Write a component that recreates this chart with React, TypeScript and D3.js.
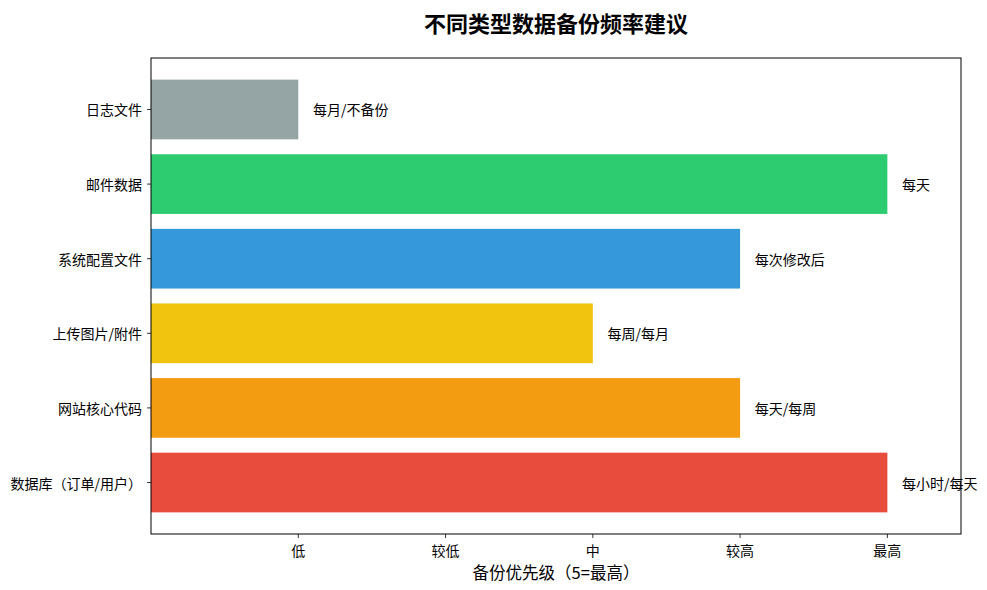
import React from "react";
import * as d3 from "d3";

const categories = ["数据库（订单/用户）", "网站核心代码", "上传图片/附件", "系统配置文件", "邮件数据", "日志文件"];
const priorities = [5, 4, 3, 4, 5, 1];
const frequencies = ["每小时/每天", "每天/每周", "每周/每月", "每次修改后", "每天", "每月/不备份"];
const colors = ["#e74c3c", "#f39c12", "#f1c40f", "#3498db", "#2ecc71", "#95a5a6"];
const tickValues = [1, 2, 3, 4, 5];
const tickLabels = ["低", "较低", "中", "较高", "最高"];

const W = 987, H = 590;
const L = 151, R = 961, T = 58, B = 534;
const FONT = "'Noto Sans CJK SC', 'Noto Sans', sans-serif";

export default function App() {
  const x = d3.scaleLinear().domain([0, 5.5]).range([L, R]);
  const y = d3.scaleLinear().domain([-0.69, 5.69]).range([B, T]);
  const bh = y(0) - y(0.8);
  return (
    <svg width={W} height={H} style={{ position: "absolute", left: 0, top: 0 }} fontFamily={FONT}>
      <rect x={0} y={0} width={W} height={H} fill="#fff" />
      <text x={(L + R) / 2} y={22} textAnchor="middle" dominantBaseline="central" fontSize={22} fontWeight="bold" fill="#000">不同类型数据备份频率建议</text>
      {categories.map((c, i) => (
        <g key={c}>
          <rect x={x(0)} y={y(i) - bh / 2} width={x(priorities[i]) - x(0)} height={bh} fill={colors[i]} />
          <text x={x(priorities[i] + 0.1)} y={y(i)} dominantBaseline="central" fontSize={14} fill="#000">{frequencies[i]}</text>
          <line x1={L - 4} x2={L} y1={y(i)} y2={y(i)} stroke="#000" strokeWidth={0.8} />
          <text x={L - 9} y={y(i)} textAnchor="end" dominantBaseline="central" fontSize={14} fill="#000">{c}</text>
        </g>
      ))}
      <rect x={L} y={T} width={R - L} height={B - T} fill="none" stroke="#000" strokeWidth={1} />
      {tickValues.map((v, i) => (
        <g key={v}>
          <line x1={x(v)} x2={x(v)} y1={B} y2={B + 4} stroke="#000" strokeWidth={0.8} />
          <text x={x(v)} y={B + 16} textAnchor="middle" dominantBaseline="central" fontSize={14} fill="#000">{tickLabels[i]}</text>
        </g>
      ))}
      <text x={(L + R) / 2} y={572} textAnchor="middle" dominantBaseline="central" fontSize={16.5} fill="#000">备份优先级（5=最高）</text>
    </svg>
  );
}
